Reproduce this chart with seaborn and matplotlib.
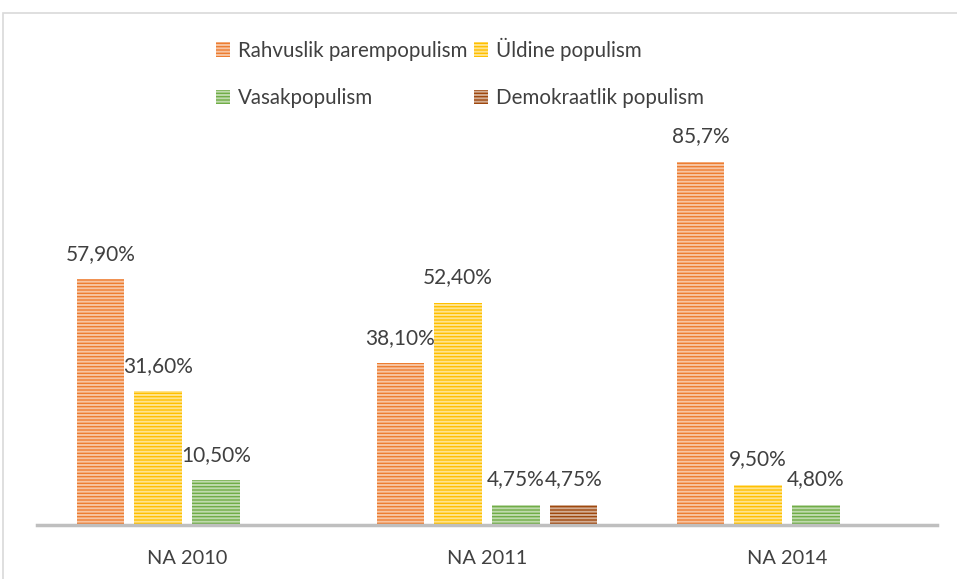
import matplotlib
matplotlib.use("Agg")
import matplotlib.pyplot as plt
import seaborn as sns
import pandas as pd
from matplotlib.patches import Patch, Rectangle
from matplotlib.colors import to_rgb

# data
years = ["NA 2010", "NA 2011", "NA 2014"]
series = ["Rahvuslik parempopulism", "Üldine populism", "Vasakpopulism", "Demokraatlik populism"]
rahvuslik = [57.9, 38.1, 85.7]
uldine = [31.6, 52.4, 9.5]
vasak = [10.5, 4.75, 4.8]
demokraatlik = [0, 4.75, 0]
labels = [["57,90%", "38,10%", "85,7%"],
          ["31,60%", "52,40%", "9,50%"],
          ["10,50%", "4,75%", "4,80%"],
          ["", "4,75%", ""]]
colors = ["#ED7D31", "#FFC000", "#70AD47", "#9E480E"]

rows = []
for s, vals in zip(series, [rahvuslik, uldine, vasak, demokraatlik]):
    for y, v in zip(years, vals):
        rows.append({"year": y, "series": s, "value": v})
df = pd.DataFrame(rows)

sns.set_theme(style="white")
plt.rcParams['font.family'] = ['Lato', 'DejaVu Sans']
plt.rcParams['hatch.linewidth'] = 1.4
txt = "#404040"

def light(c, f=0.5):
    r, g, b = to_rgb(c)
    return (r + (1 - r) * f, g + (1 - g) * f, b + (1 - b) * f)

fig = plt.figure(figsize=(9.57, 5.79), dpi=100)
ax = fig.add_axes([37 / 957, 54 / 579, 900 / 957, 0.7325])

sns.barplot(data=df, x="year", y="value", hue="series", hue_order=series,
            palette=colors, width=0.77, gap=0.18, legend=False, ax=ax,
            saturation=1, errorbar=None)

for cont, col, lab in zip(ax.containers, colors, labels):
    for bar in cont:
        bar.set_hatch("-----")
        bar.set_edgecolor(light(col, 0.55))
        bar.set_linewidth(0)
    ax.bar_label(cont, labels=lab, padding=11, fontsize=15, color=txt)

ax.set_ylim(0, 100)
ax.set_xlim(-0.5, 2.5)
ax.set_xlabel("")
ax.set_ylabel("")
ax.set_yticks([])
ax.tick_params(axis="x", length=0, pad=18, labelsize=14.4, colors=txt)
for sp in ["top", "left", "right"]:
    ax.spines[sp].set_visible(False)
ax.spines["bottom"].set_color("#BFBFBF")
ax.spines["bottom"].set_linewidth(2.5)

# row-wise legend order like the original
order = [0, 2, 1, 3]
handles = [Patch(facecolor=colors[i], edgecolor=light(colors[i], 0.55), hatch="-----",
                 linewidth=0, label=series[i]) for i in order]
leg = fig.legend(handles=handles, ncol=2, loc="center", bbox_to_anchor=(460 / 957, 1 - 73 / 579),
                 frameon=False, fontsize=14.8, handlelength=0.7, handleheight=0.7,
                 handletextpad=0.4, columnspacing=0.3, labelspacing=1.35)
for t in leg.get_texts():
    t.set_color(txt)

# chart border
fig.patches.append(Rectangle((3 / 957, -0.1), 1.2, 1 - 13 / 579 + 0.1, transform=fig.transFigure,
                             fill=False, edgecolor="#D9D9D9", linewidth=1.2))

fig.savefig("out.png", dpi=100)
